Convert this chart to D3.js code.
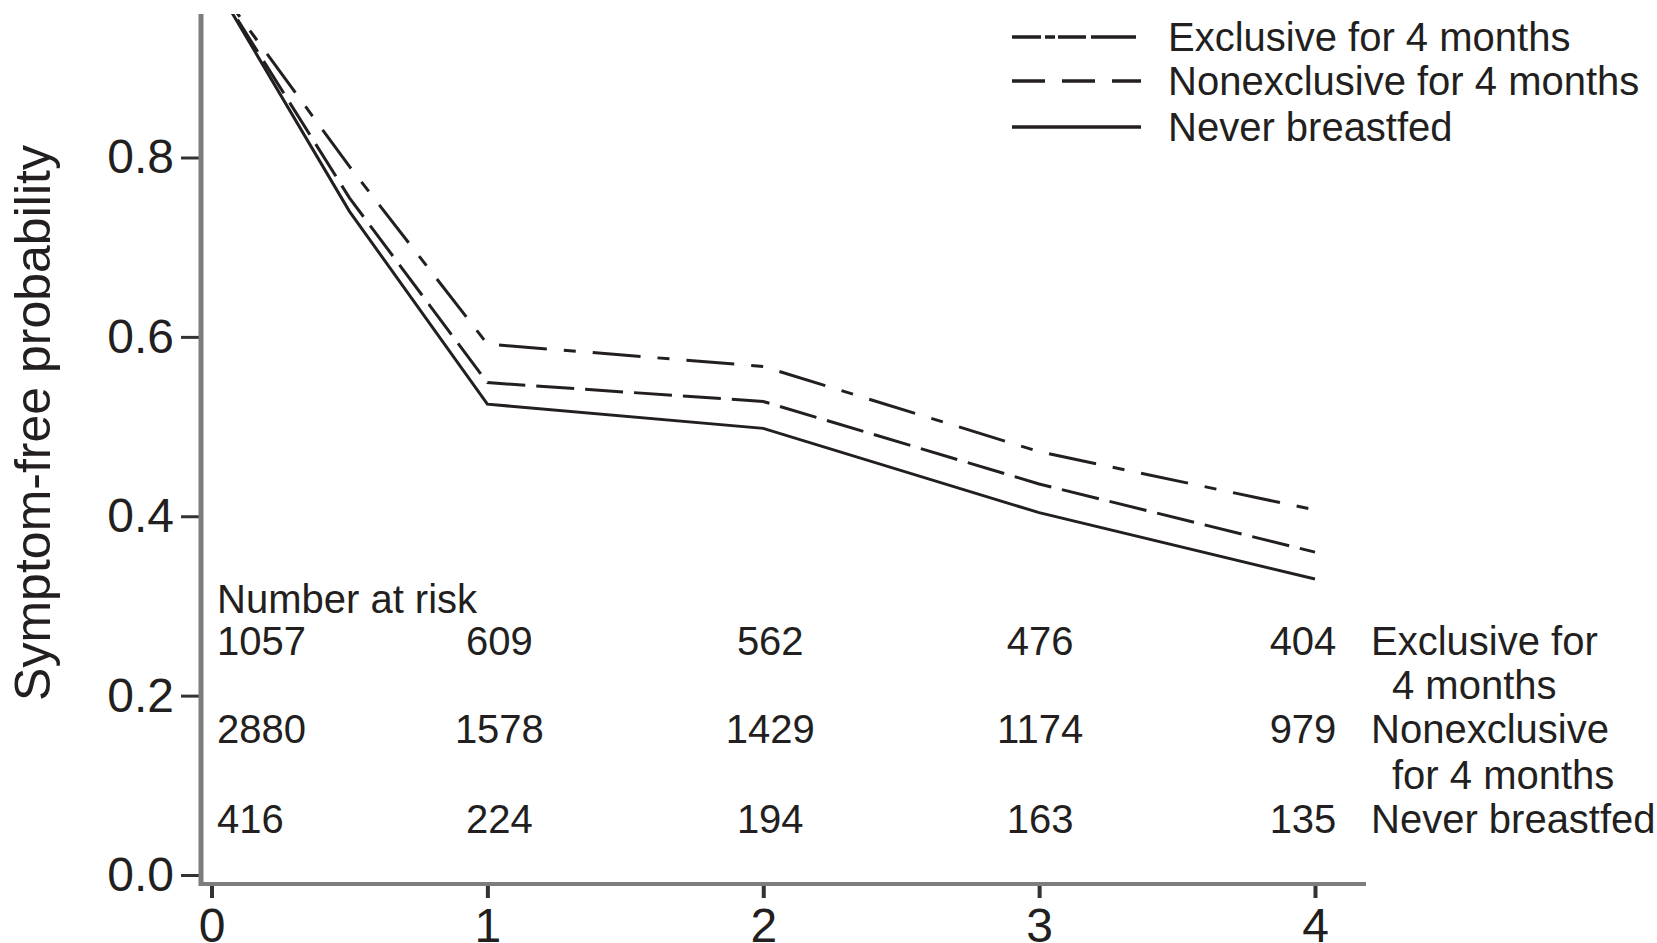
<!DOCTYPE html>
<html>
<head>
<meta charset="utf-8">
<script src="https://cdn.jsdelivr.net/npm/d3@7"></script>
<style>
  html, body { margin: 0; padding: 0; background: #ffffff; }
  svg { display: block; }
  text { font-family: "Liberation Sans", Arial, Helvetica, sans-serif; fill: #231f20; }
</style>
</head>
<body>
<svg id="chart" width="1657" height="943"></svg>
<script>
// Follow-up time in months
const months = [0, 0.5, 1, 2, 3, 4];

// Symptom-free probability by breastfeeding group
const exclusive      = [1.0, 0.79, 0.592, 0.567, 0.472, 0.407];
const nonexclusive   = [1.0, 0.755, 0.549, 0.528, 0.436, 0.36];
const neverBreastfed = [1.0, 0.74, 0.525, 0.498, 0.404, 0.33];

// Axis ticks
const xTicks = [0, 1, 2, 3, 4];
const yTicks = [0.0, 0.2, 0.4, 0.6, 0.8];

// Number at risk at each month
const riskMonths       = [0, 1, 2, 3, 4];
const riskExclusive    = [1057, 609, 562, 476, 404];
const riskNonexclusive = [2880, 1578, 1429, 1174, 979];
const riskNever        = [416, 224, 194, 163, 135];

// Group labels
const legendLabels = ["Exclusive for 4 months", "Nonexclusive for 4 months", "Never breastfed"];
const riskLabels   = [["Exclusive for", "4 months"], ["Nonexclusive", "for 4 months"], ["Never breastfed"]];
const yTitle = "Symptom-free probability";
const riskTitle = "Number at risk";

const svg = d3.select("#chart");
const ink = "#231f20";
const axisGrey = "#7d7d7d";

// Scales
const x = d3.scaleLinear().domain([0, 4]).range([211.5, 1315]);
const y = d3.scaleLinear().domain([0, 0.96]).range([875, 14]);

const plotTop = y(0.96);
const axisX = 201;      // y-axis line position
const axisY = 884;      // x-axis line position
const axisRight = 1366;

// Clip survival curves to the plotting region
svg.append("defs").append("clipPath").attr("id", "plotClip")
  .append("rect")
  .attr("x", axisX).attr("y", plotTop)
  .attr("width", axisRight - axisX).attr("height", axisY - plotTop);

// Y axis
const yAxis = svg.append("g")
  .attr("transform", `translate(${axisX},0)`)
  .call(d3.axisLeft(y).tickValues(yTicks).tickFormat(d3.format(".1f")).tickSize(20).tickPadding(7).tickSizeOuter(0));
yAxis.select(".domain").remove();
yAxis.selectAll(".tick line").attr("stroke", "#333").attr("stroke-width", 3);
yAxis.selectAll(".tick text")
  .attr("font-size", 48).attr("fill", ink)
  .style("font-family", '"Liberation Sans", Arial, sans-serif');

svg.append("line")
  .attr("x1", axisX).attr("x2", axisX)
  .attr("y1", plotTop).attr("y2", axisY + 2)
  .attr("stroke", axisGrey).attr("stroke-width", 5);

// X axis
const xAxis = svg.append("g")
  .attr("transform", `translate(0,${axisY})`)
  .call(d3.axisBottom(x).tickValues(xTicks).tickFormat(d3.format("d")).tickSize(14).tickPadding(8).tickSizeOuter(0));
xAxis.select(".domain").remove();
xAxis.selectAll(".tick line").attr("stroke", "#333").attr("stroke-width", 4);
xAxis.selectAll(".tick text")
  .attr("font-size", 48).attr("fill", ink)
  .attr("dy", null).attr("y", 58)
  .style("font-family", '"Liberation Sans", Arial, sans-serif');

svg.append("line")
  .attr("x1", axisX - 2).attr("x2", axisRight)
  .attr("y1", axisY).attr("y2", axisY)
  .attr("stroke", axisGrey).attr("stroke-width", 4);

// Y axis title
svg.append("text")
  .attr("transform", `translate(50,423) rotate(-90)`)
  .attr("text-anchor", "middle")
  .attr("font-size", 50)
  .text(yTitle);

// Survival curves
const series = [
  { values: exclusive,      dash: "48,17,12,17" },
  { values: nonexclusive,   dash: "38,11" },
  { values: neverBreastfed, dash: null }
];

const line = d3.line()
  .x(d => x(d[0]))
  .y(d => y(d[1]));

svg.append("g").attr("clip-path", "url(#plotClip)")
  .selectAll("path")
  .data(series)
  .join("path")
  .attr("d", s => line(months.map((m, i) => [m, s.values[i]])))
  .attr("fill", "none")
  .attr("stroke", ink)
  .attr("stroke-width", 3)
  .attr("stroke-dasharray", s => s.dash);

// Legend
const legendDash = ["29,4,10,3,28,5,45", "33,17", null];
const legendRows = [37, 81, 127];
const legend = svg.append("g");
legendLabels.forEach((label, i) => {
  legend.append("line")
    .attr("x1", 1012).attr("x2", 1141)
    .attr("y1", legendRows[i]).attr("y2", legendRows[i])
    .attr("stroke", ink).attr("stroke-width", 3.5)
    .attr("stroke-dasharray", legendDash[i]);
  legend.append("text")
    .attr("x", 1168).attr("y", legendRows[i]).attr("dy", "0.36em")
    .attr("font-size", 40)
    .text(label);
});

// Number at risk table
const riskRows = [
  { counts: riskExclusive,    y: 641 },
  { counts: riskNonexclusive, y: 729 },
  { counts: riskNever,        y: 819 }
];
const colShift = [0, 12, 7, 1, -12];

svg.append("text")
  .attr("x", 217).attr("y", 599).attr("dy", "0.36em")
  .attr("font-size", 40)
  .text(riskTitle);

const risk = svg.append("g");
riskRows.forEach((row, r) => {
  row.counts.forEach((n, i) => {
    const first = i === 0;
    risk.append("text")
      .attr("x", first ? 217 : x(riskMonths[i]) + colShift[i])
      .attr("y", row.y).attr("dy", "0.36em")
      .attr("text-anchor", first ? "start" : "middle")
      .attr("font-size", 40)
      .text(d3.format("d")(n));
  });
});

// Group names beside the table
const riskLabelLines = [
  [{ x: 1371, y: 641 }, { x: 1392, y: 685 }],
  [{ x: 1371, y: 729 }, { x: 1392, y: 775 }],
  [{ x: 1371, y: 819 }]
];
riskLabels.forEach((lines, r) => {
  lines.forEach((t, k) => {
    risk.append("text")
      .attr("x", riskLabelLines[r][k].x).attr("y", riskLabelLines[r][k].y).attr("dy", "0.36em")
      .attr("font-size", 40)
      .text(t);
  });
});
</script>
</body>
</html>
